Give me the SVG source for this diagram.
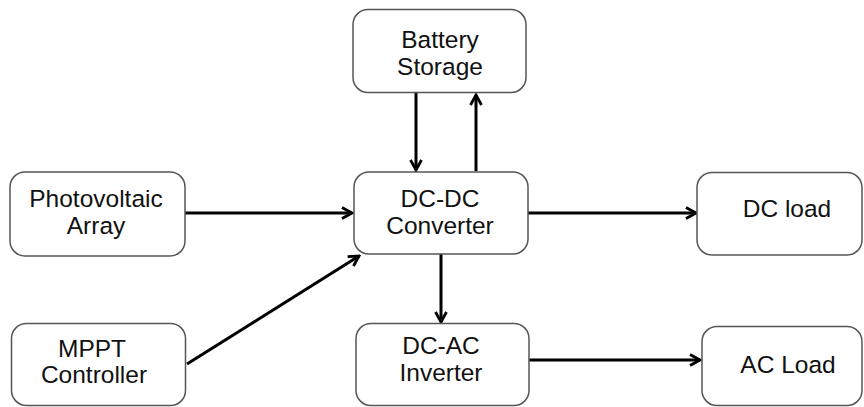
<svg xmlns="http://www.w3.org/2000/svg" width="864" height="407" viewBox="0 0 864 407">
<style>
.box{fill:#fff;stroke:#555;stroke-width:1.5}
.lbl{font-family:"Liberation Sans",Arial,sans-serif;font-size:24.5px;fill:#111;text-anchor:middle}
.con{stroke:#000;stroke-width:3;fill:none;marker-end:url(#ah)}
</style>
<defs>
<marker id="ah" viewBox="0 0 14 14" refX="12" refY="7" markerWidth="14" markerHeight="14" markerUnits="userSpaceOnUse" orient="auto">
<polyline points="2,1.5 12,7 2,12.5" fill="none" stroke="#000" stroke-width="2.8"/>
</marker>
</defs>
<rect width="864" height="407" fill="#fff"/>
<g id="connectors">
<line class="con" x1="416" y1="93" x2="416" y2="170"/>
<line class="con" x1="476" y1="171" x2="476" y2="95"/>
<line class="con" x1="185" y1="213" x2="352" y2="213"/>
<line class="con" x1="187" y1="364" x2="359" y2="256"/>
<line class="con" x1="528" y1="213" x2="696" y2="213"/>
<line class="con" x1="441" y1="254" x2="441" y2="322"/>
<line class="con" x1="529" y1="360" x2="700" y2="360"/>
</g>
<g id="battery">
<rect class="box" x="353" y="9.5" width="173" height="83" rx="15"/>
<text class="lbl" x="440" y="48">Battery</text>
<text class="lbl" x="440" y="75">Storage</text>
</g>
<g id="pv">
<rect class="box" x="10" y="172" width="175" height="84" rx="15"/>
<text class="lbl" x="96" y="207">Photovoltaic</text>
<text class="lbl" x="96" y="234">Array</text>
</g>
<g id="dcdc">
<rect class="box" x="354" y="172" width="174" height="82" rx="15"/>
<text class="lbl" x="440" y="207">DC-DC</text>
<text class="lbl" x="440" y="234">Converter</text>
</g>
<g id="dcload">
<rect class="box" x="697" y="172.5" width="165" height="82.5" rx="15"/>
<text class="lbl" x="787" y="217">DC load</text>
</g>
<g id="mppt">
<rect class="box" x="11.5" y="323.5" width="174" height="82" rx="15"/>
<text class="lbl" x="92" y="357">MPPT</text>
<text class="lbl" x="94" y="383">Controller</text>
</g>
<g id="dcac">
<rect class="box" x="356" y="323.5" width="173" height="82" rx="15"/>
<text class="lbl" x="441" y="354">DC-AC</text>
<text class="lbl" x="441" y="381">Inverter</text>
</g>
<g id="acload">
<rect class="box" x="702" y="326.5" width="160" height="79" rx="15"/>
<text class="lbl" x="788" y="373">AC Load</text>
</g>
</svg>
